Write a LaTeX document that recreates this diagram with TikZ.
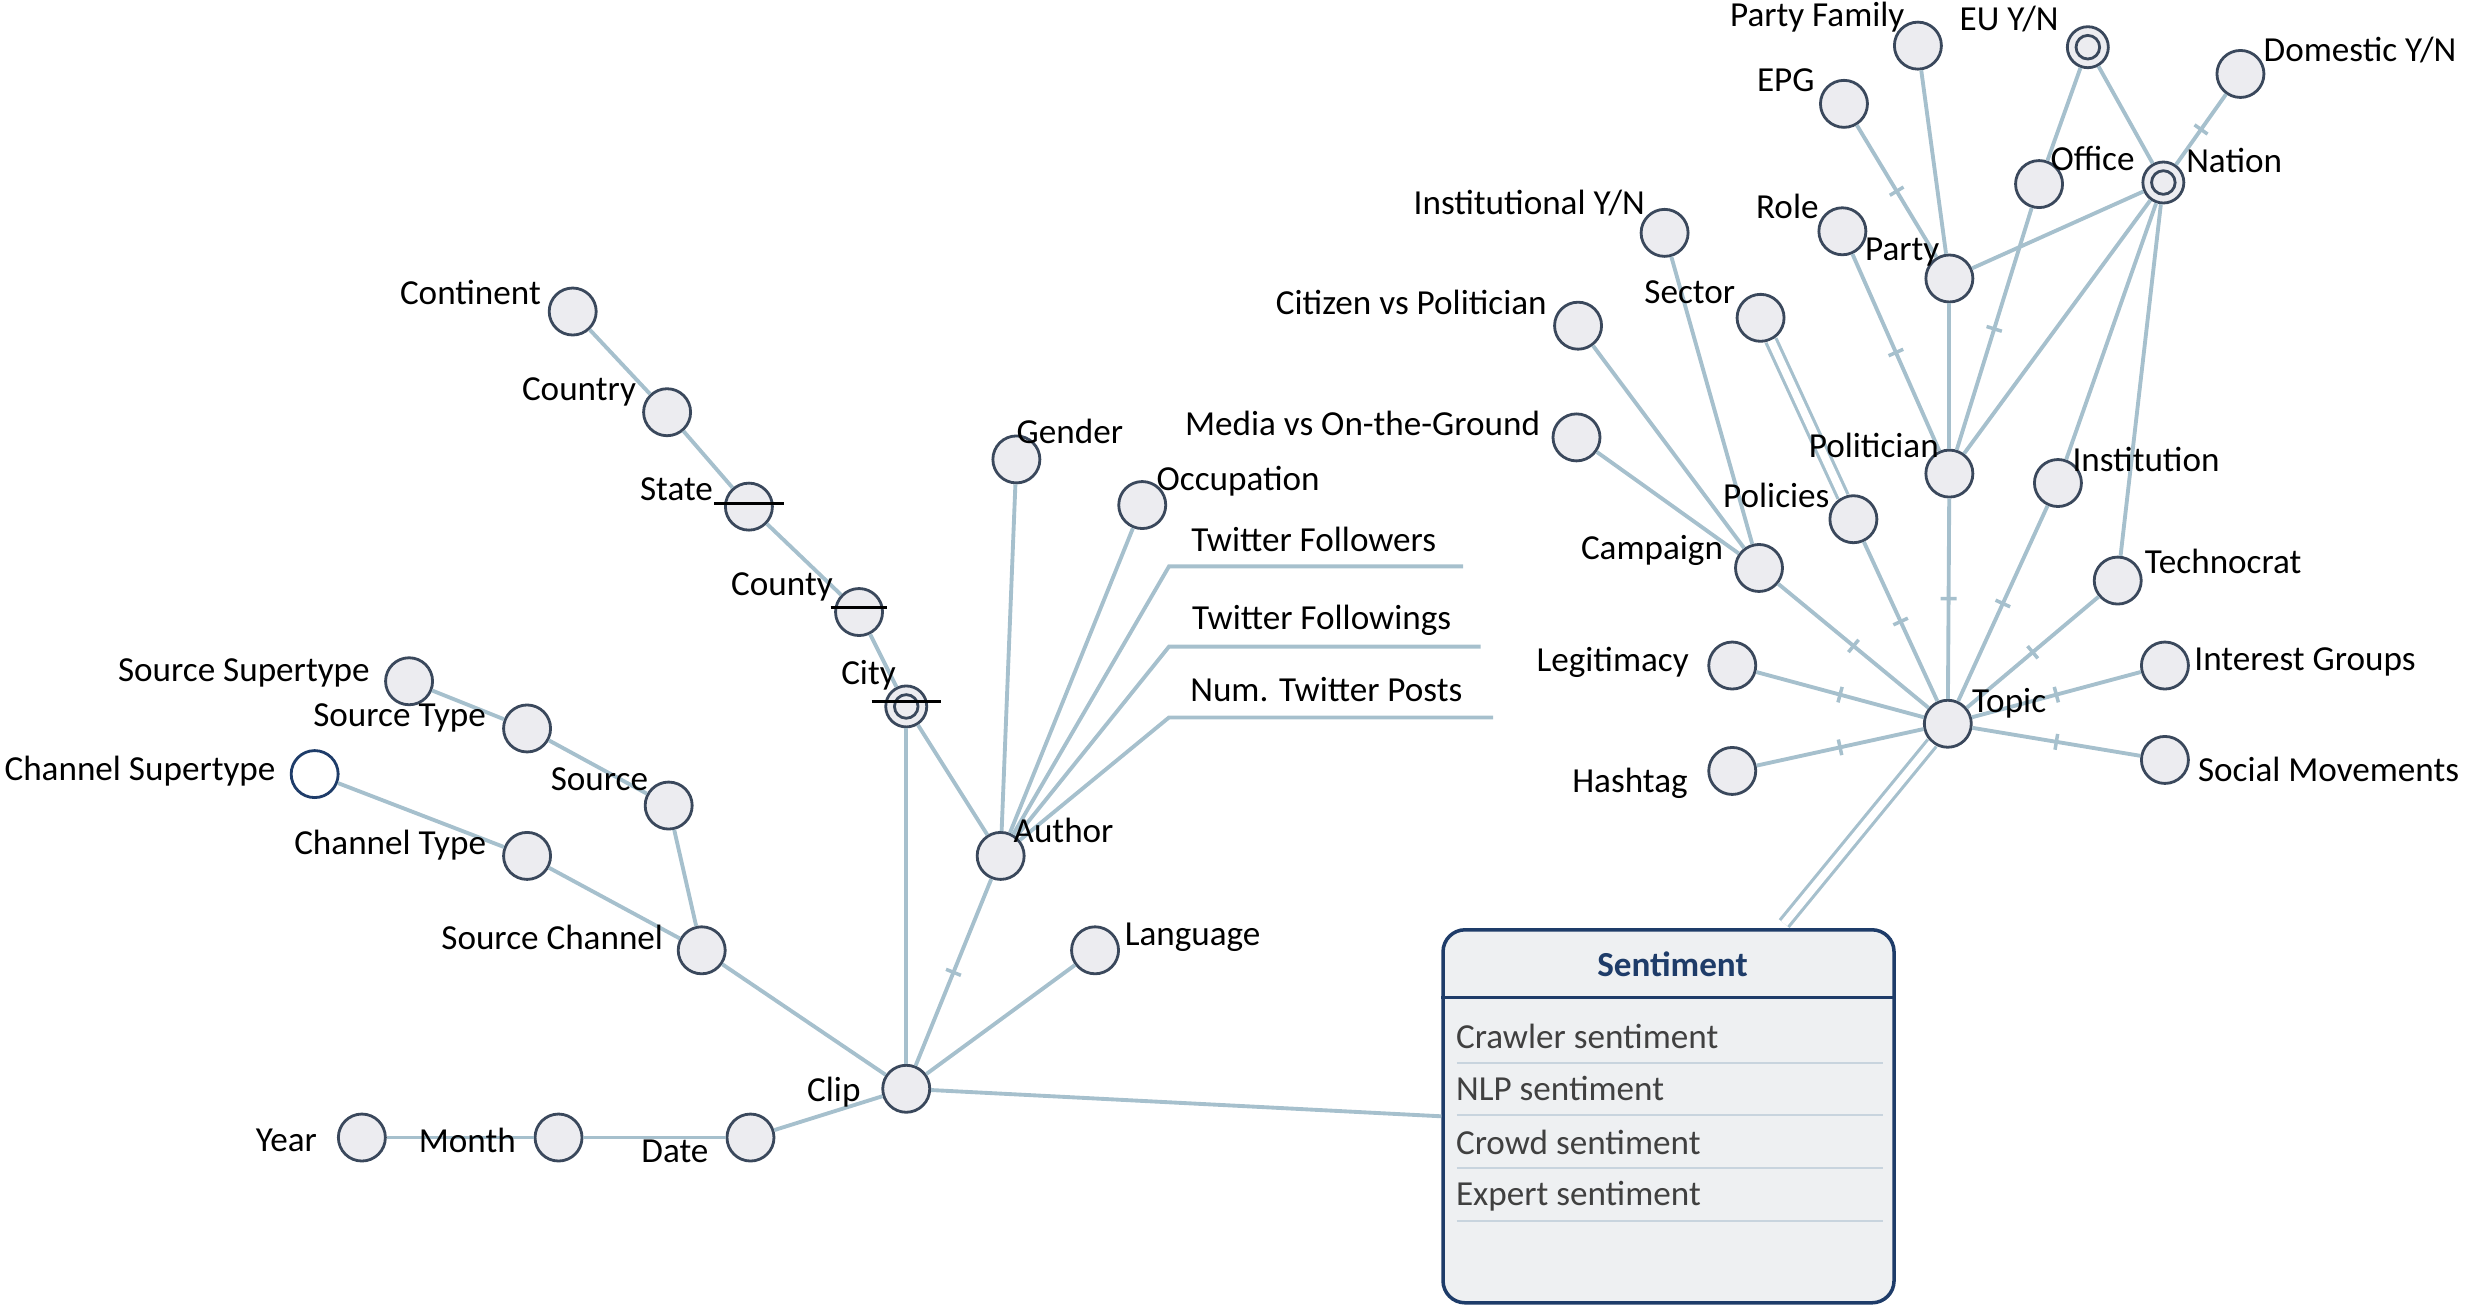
\documentclass[tikz,border=0pt]{standalone}
\usepackage{fontspec}
\setmainfont{Carlito}
\usetikzlibrary{decorations.markings}

\definecolor{linkblue}{RGB}{166,192,205}
\definecolor{attrfill}{RGB}{236,236,240}
\definecolor{attrline}{RGB}{58,72,92}
\definecolor{boxline}{RGB}{30,60,105}
\definecolor{boxfill}{RGB}{238,240,242}
\definecolor{itemgrey}{RGB}{64,64,64}
\definecolor{rowline}{RGB}{200,212,222}

\tikzset{
  attr/.style={circle, draw=attrline, fill=attrfill, line width=0.8pt, minimum size=4.7mm, inner sep=0pt},
  ringattr/.style={attr, minimum size=4.1mm},
  openattr/.style={attr, fill=white, draw=boxline},
  lbl/.style={inner sep=0pt, font=\fontsize{10}{12}\selectfont},
  link/.style={draw=linkblue, line width=1.1pt},
  dbl/.style={draw=linkblue, line width=0.9pt, double=white, double distance=2.2pt},
  crossed/.style={postaction={decorate}, decoration={markings,
      mark=at position 0.5 with {\draw[linkblue, line width=1pt] (0,-0.8mm) -- (0,0.8mm);}}},
  strike/.style={draw=black, line width=0.7pt},
  sentbox/.style={rounded corners=2.2mm, draw=boxline, fill=boxfill, line width=1pt,
      minimum width=45.1mm, minimum height=37.3mm, inner sep=0pt},
}

\begin{document}
\begin{tikzpicture}[x=0.15733mm, y=-0.15733mm]
\useasboundingbox (0,0) rectangle (1568,830);

% location, author and source side
\node[attr] (continent) at (364,198) {};
\node[attr] (country) at (424,262) {};
\node[attr] (state) at (476,322) {};
\node[attr] (county) at (546,389) {};
\node[ringattr] (city) at (576,449) {};
\node[attr] (gender) at (646,292) {};
\node[attr] (occupation) at (726,321) {};
\node[attr] (author) at (636,544) {};
\node[attr] (srcsuper) at (260,433) {};
\node[attr] (srctype) at (335,463) {};
\node[openattr] (chsuper) at (200,492) {};
\node[attr] (source) at (425,512) {};
\node[attr] (chtype) at (335,544) {};
\node[attr] (srcchan) at (446,604) {};
\node[attr] (clip) at (576,692) {};
\node[attr] (language) at (696,604) {};
\node[attr] (year) at (230,723) {};
\node[attr] (month) at (355,723) {};
\node[attr] (date) at (477,723) {};

\coordinate (tw1) at (743,360);
\coordinate (tw1end) at (930,360);
\coordinate (tw2) at (743,411);
\coordinate (tw2end) at (941,411);
\coordinate (tw3) at (743,456);
\coordinate (tw3end) at (949,456);

\draw[link] (continent) -- (country);
\draw[link] (country) -- (state);
\draw[link] (state) -- (county);
\draw[link] (county) -- (city);
\draw[link] (city) -- (clip);
\draw[link] (city) -- (author);
\draw[link] (author) -- (gender);
\draw[link] (author) -- (occupation);
\draw[link, crossed] (author) -- (clip);
\draw[link] (author) -- (tw1) -- (tw1end);
\draw[link] (author) -- (tw2) -- (tw2end);
\draw[link] (author) -- (tw3) -- (tw3end);
\draw[link] (srcsuper) -- (srctype);
\draw[link] (srctype) -- (source);
\draw[link] (source) -- (srcchan);
\draw[link] (chsuper) -- (chtype);
\draw[link] (chtype) -- (srcchan);
\draw[link] (srcchan) -- (clip);
\draw[link] (clip) -- (language);
\draw[link] (year) -- (month);
\draw[link] (month) -- (date);
\draw[link] (date) -- (clip);

\node[lbl] (continent-l) at (299,186) {Continent};
\node[lbl] (country-l) at (368,249) {Country};
\node[lbl] (state-l) at (430,311) {State};
\node[lbl] (county-l) at (497,373) {County};
\node[lbl] (city-l) at (552,429) {City};
\node[lbl] (gender-l) at (680,274) {Gender};
\node[lbl] (occupation-l) at (787,306) {Occupation};
\node[lbl] (tw1-l) at (835,343) {Twitter Followers};
\node[lbl] (tw2-l) at (840,394) {Twitter Followings};
\node[lbl] (tw3-l) at (843,438) {Num. Twitter Posts};
\node[lbl] (author-l) at (676,528) {Author};
\node[lbl] (language-l) at (758,596) {Language};
\node[lbl] (srcsuper-l) at (155,428) {Source Supertype};
\node[lbl] (srctype-l) at (254,456) {Source Type};
\node[lbl] (chsuper-l) at (89,490) {Channel Supertype};
\node[lbl] (source-l) at (381,495) {Source};
\node[lbl] (chtype-l) at (248,537) {Channel Type};
\node[lbl] (srcchan-l) at (351,596) {Source Channel};
\node[lbl] (clip-l) at (530,694) {Clip};
\node[lbl] (year-l) at (182,725) {Year};
\node[lbl] (month-l) at (297,725) {Month};
\node[lbl] (date-l) at (429,732) {Date};

\draw[attrline, line width=0.8pt] (city.center) circle (1.18mm);
\draw[strike] (state.center) ++(-22,-2) -- ++(44,0);
\draw[strike] (county.center) ++(-18,-3) -- ++(36,0);
\draw[strike] (city.center) ++(-22,-3) -- ++(44,0);

% topic side
\node[attr] (topic) at (1238,460) {};
\node[attr] (legit) at (1101,423) {};
\node[attr] (hashtag) at (1101,490) {};
\node[attr] (interest) at (1376,423) {};
\node[attr] (social) at (1376,483) {};
\node[attr] (techno) at (1346,369) {};
\node[attr] (institution) at (1308,307) {};
\node[attr] (politician) at (1239,301) {};
\node[attr] (policies) at (1178,330) {};
\node[attr] (campaign) at (1118,361) {};
\node[attr] (media) at (1002,278) {};
\node[attr] (citizen) at (1003,207) {};
\node[attr] (instyn) at (1058,148) {};
\node[attr] (sector) at (1119,202) {};
\node[attr] (role) at (1171,147) {};
\node[attr] (party) at (1239,177) {};
\node[attr] (epg) at (1172,66) {};
\node[attr] (partyfam) at (1219,29) {};
\node[ringattr] (euyn) at (1327,30) {};
\node[attr] (office) at (1296,117) {};
\node[ringattr] (nation) at (1375,116) {};
\node[attr] (domestic) at (1424,47) {};

\draw[link, crossed] (topic) -- (legit);
\draw[link, crossed] (topic) -- (hashtag);
\draw[link, crossed] (topic) -- (interest);
\draw[link, crossed] (topic) -- (social);
\draw[link, crossed] (topic) -- (techno);
\draw[link, crossed] (topic) -- (institution);
\draw[link, crossed] (topic) -- (politician);
\draw[link, crossed] (topic) -- (policies);
\draw[link, crossed] (topic) -- (campaign);
\draw[link] (campaign) -- (media);
\draw[link] (campaign) -- (citizen);
\draw[link] (campaign) -- (instyn);
\draw[dbl] (policies) -- (sector);
\draw[link, crossed] (politician) -- (role);
\draw[link] (politician) -- (party);
\draw[link, crossed] (politician) -- (office);
\draw[link] (politician) -- (nation);
\draw[link, crossed] (party) -- (epg);
\draw[link] (party) -- (partyfam);
\draw[link] (party) -- (nation);
\draw[link] (office) -- (euyn);
\draw[link] (nation) -- (euyn);
\draw[link, crossed] (nation) -- (domestic);
\draw[link] (nation) -- (institution);
\draw[link] (nation) -- (techno);

\node[lbl] (topic-l) at (1277,447) {Topic};
\node[lbl] (legit-l) at (1025,421) {Legitimacy};
\node[lbl] (hashtag-l) at (1036,498) {Hashtag};
\node[lbl] (interest-l) at (1465,421) {Interest Groups};
\node[lbl] (social-l) at (1480,489) {Social Movements};
\node[lbl] (techno-l) at (1413,357) {Technocrat};
\node[lbl] (institution-l) at (1364,292) {Institution};
\node[lbl] (politician-l) at (1191,283) {Politician};
\node[lbl] (policies-l) at (1129,315) {Policies};
\node[lbl] (campaign-l) at (1050,350) {Campaign};
\node[lbl] (media-l) at (866,269) {Media vs On-the-Ground};
\node[lbl] (citizen-l) at (897,192) {Citizen vs Politician};
\node[lbl] (instyn-l) at (972,129) {Institutional Y/N};
\node[lbl] (sector-l) at (1074,186) {Sector};
\node[lbl] (role-l) at (1136,131) {Role};
\node[lbl] (party-l) at (1209,160) {Party};
\node[lbl] (epg-l) at (1135,51) {EPG};
\node[lbl] (partyfam-l) at (1155,11) {Party Family};
\node[lbl] (euyn-l) at (1277,12) {EU Y/N};
\node[lbl] (office-l) at (1330,101) {Office};
\node[lbl] (nation-l) at (1420,102) {Nation};
\node[lbl] (domestic-l) at (1500,32) {Domestic Y/N};

\draw[attrline, line width=0.8pt] (euyn.center) circle (1.18mm);
\draw[attrline, line width=0.8pt] (nation.center) circle (1.18mm);

% sentiment box
\node[sentbox] (sent) at (1060.5,709.5) {};
\coordinate (senttop) at (1134,587);
\draw[dbl] (topic) -- (senttop);
\draw[link] (clip) -- (sent.west);
\node[lbl, font=\fontsize{10}{12}\selectfont\bfseries, text=boxline] (sent-t) at (1063,613) {Sentiment};
\draw[boxline, line width=0.8pt] (sent.west |- 0,634) -- (sent.east |- 0,634);
\foreach \yy in {675.6,708.8,742.4,776}
  \draw[rowline, line width=0.6pt] (926,\yy) -- (1197,\yy);
\node[lbl, anchor=west, text=itemgrey] (crawler) at (925,659) {Crawler sentiment};
\node[lbl, anchor=west, text=itemgrey] (nlp) at (925,692) {NLP sentiment};
\node[lbl, anchor=west, text=itemgrey] (crowd) at (925,726) {Crowd sentiment};
\node[lbl, anchor=west, text=itemgrey] (expert) at (925,760) {Expert sentiment};

\end{tikzpicture}
\end{document}
